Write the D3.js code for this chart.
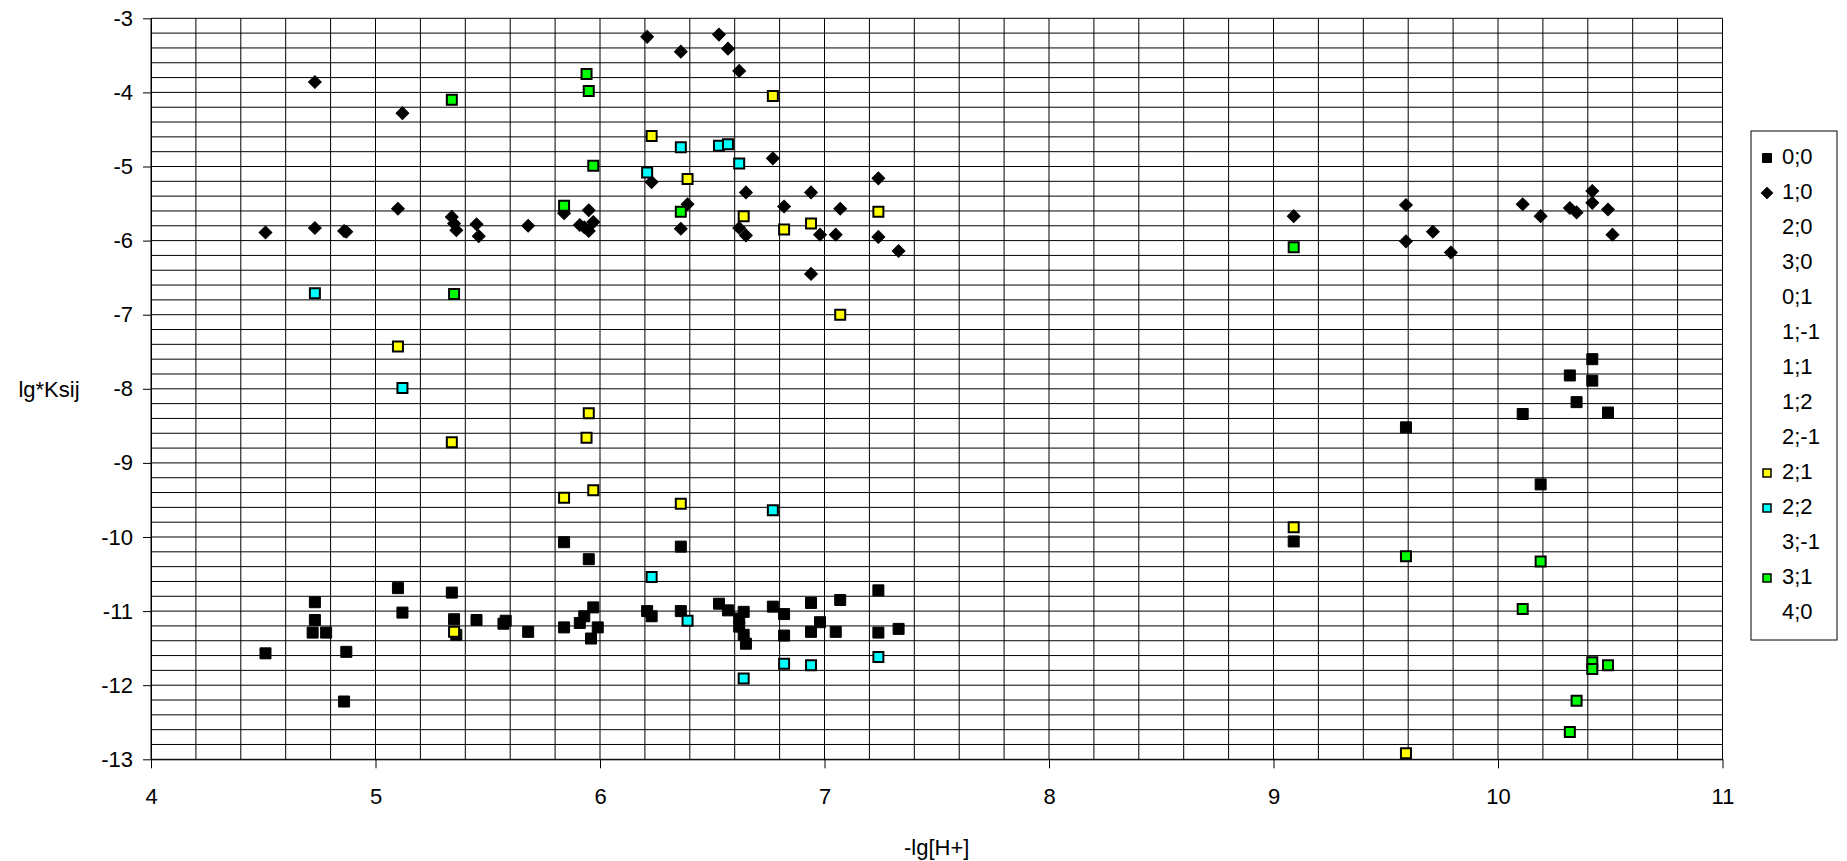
<!DOCTYPE html>
<html>
<head>
<meta charset="utf-8">
<script src="https://cdn.jsdelivr.net/npm/d3@7"></script>
<style>
  html, body { margin: 0; padding: 0; background: #fff; }
  svg { display: block; font-family: Arial, "Liberation Sans", sans-serif; }
</style>
</head>
<body>
<svg id="chart" width="1847" height="861"></svg>
<script>
// Axis ticks
const xTicks = [4, 5, 6, 7, 8, 9, 10, 11];
const yTicks = [-3, -4, -5, -6, -7, -8, -9, -10, -11, -12, -13];

// Legend order (series without points still listed)
const seriesNames = ["0;0", "1;0", "2;0", "3;0", "0;1", "1;-1", "1;1", "1;2", "2;-1", "2;1", "2;2", "3;-1", "3;1", "4;0"];

// Series points: [-lg[H+], lg*Ksij]
const s0_0 = [
  [4.51, -11.57], [4.72, -11.29], [4.73, -11.12], [4.73, -10.88], [4.78, -11.29], [4.86, -12.22],
  [4.87, -11.55], [5.10, -10.69], [5.12, -11.02], [5.34, -10.75], [5.35, -11.11], [5.36, -11.32],
  [5.45, -11.12], [5.57, -11.17], [5.58, -11.13], [5.68, -11.28],
  [5.84, -10.07], [5.95, -10.30], [6.36, -10.13],
  [5.97, -10.95], [5.93, -11.07], [5.91, -11.16], [5.84, -11.22], [5.99, -11.22], [5.96, -11.37],
  [6.21, -11.00], [6.23, -11.07], [6.36, -11.00], [6.53, -10.90], [6.57, -10.99], [6.64, -11.01],
  [6.62, -11.10], [6.62, -11.21], [6.64, -11.32], [6.65, -11.44], [6.77, -10.94], [6.82, -11.04],
  [6.82, -11.33], [6.94, -10.89], [6.98, -11.15], [6.94, -11.28], [7.07, -10.85], [7.05, -11.28],
  [7.24, -10.72], [7.24, -11.29], [7.33, -11.24],
  [9.09, -10.06], [9.59, -8.52], [10.11, -8.34], [10.19, -9.29], [10.32, -7.82], [10.35, -8.18],
  [10.42, -7.60], [10.42, -7.89], [10.49, -8.32]
];
const s1_0 = [
  [4.51, -5.89], [4.73, -3.86], [4.73, -5.83], [4.86, -5.87], [4.87, -5.88], [5.10, -5.57],
  [5.12, -4.28], [5.34, -5.68], [5.35, -5.77], [5.36, -5.86], [5.45, -5.78], [5.46, -5.94],
  [5.68, -5.80], [5.84, -5.63], [5.91, -5.79], [5.93, -5.82], [5.95, -5.87], [5.97, -5.75],
  [5.95, -5.59], [6.21, -3.25], [6.23, -5.21], [6.36, -3.45], [6.36, -5.84], [6.39, -5.51],
  [6.53, -3.22], [6.57, -3.41], [6.62, -3.71], [6.62, -5.83], [6.65, -5.93], [6.65, -5.35],
  [6.77, -4.89], [6.82, -5.54], [6.94, -5.35], [6.94, -6.45], [6.98, -5.92], [7.07, -5.57],
  [7.05, -5.92], [7.24, -5.16], [7.24, -5.95], [7.33, -6.14],
  [9.09, -5.67], [9.59, -5.52], [9.59, -6.01], [9.71, -5.88], [9.79, -6.16], [10.11, -5.51],
  [10.19, -5.67], [10.32, -5.56], [10.35, -5.62], [10.42, -5.33], [10.42, -5.49], [10.49, -5.58],
  [10.51, -5.92]
];
const s2_1 = [
  [5.10, -7.43], [5.34, -8.72], [5.35, -11.28], [5.84, -9.47], [5.94, -8.66], [5.95, -8.33],
  [5.97, -9.37], [6.23, -4.59], [6.36, -9.55], [6.39, -5.17], [6.64, -5.67], [6.77, -4.05],
  [6.82, -5.85], [6.94, -5.77], [7.07, -7.00], [7.24, -5.61], [9.09, -9.87], [9.59, -12.92]
];
const s2_2 = [
  [4.73, -6.71], [5.12, -7.99], [6.21, -5.08], [6.23, -10.54], [6.36, -4.74], [6.39, -11.13],
  [6.53, -4.72], [6.57, -4.70], [6.62, -4.96], [6.77, -9.64], [6.64, -11.91], [6.82, -11.71],
  [6.94, -11.73], [7.24, -11.62]
];
const s3_1 = [
  [5.34, -4.10], [5.35, -6.72], [5.84, -5.53], [5.94, -3.75], [5.95, -3.98], [5.97, -4.99],
  [6.36, -5.61], [9.09, -6.09], [9.59, -10.26], [10.11, -10.97], [10.19, -10.33], [10.32, -12.63],
  [10.35, -12.21], [10.42, -11.69], [10.42, -11.78], [10.49, -11.73]
];

const seriesData = {
  "0;0": s0_0, "1;0": s1_0, "2;0": [], "3;0": [], "0;1": [], "1;-1": [], "1;1": [],
  "1;2": [], "2;-1": [], "2;1": s2_1, "2;2": s2_2, "3;-1": [], "3;1": s3_1, "4;0": []
};

// Marker styles per series
const markerStyle = {
  "0;0": { shape: "square", fill: "#000000", stroke: "#000000", size: 11, sw: 1 },
  "1;0": { shape: "diamond", fill: "#000000", stroke: "#000000", size: 9, sw: 1 },
  "2;1": { shape: "square", fill: "#ffff00", stroke: "#000000", size: 10, sw: 2 },
  "2;2": { shape: "square", fill: "#00ffff", stroke: "#000000", size: 10, sw: 2 },
  "3;1": { shape: "square", fill: "#00ff00", stroke: "#000000", size: 10, sw: 2 }
};

const svg = d3.select("#chart");
const W = 1847, H = 861;
svg.append("rect").attr("width", W).attr("height", H).attr("fill", "#fff");

const x = d3.scaleLinear().domain([4, 11]).range([151, 1722.5]);
const y = d3.scaleLinear().domain([-13, -3]).range([759.3, 18.3]);

const fontSize = 22;

// Grid: every 0.2 on both axes
const grid = svg.append("g").attr("stroke", "#000").attr("stroke-width", 1);
d3.range(0, 36).forEach(i => {
  const v = 4 + i * 0.2;
  grid.append("line")
    .attr("x1", x(v)).attr("x2", x(v))
    .attr("y1", y(-3)).attr("y2", y(-13));
});
d3.range(0, 51).forEach(i => {
  const v = -3 - i * 0.2;
  grid.append("line")
    .attr("x1", x(4)).attr("x2", x(11))
    .attr("y1", y(v)).attr("y2", y(v));
});

// Axes
const xAxis = svg.append("g")
  .attr("transform", `translate(0,${y(-13)})`)
  .call(d3.axisBottom(x).tickValues(xTicks).tickFormat(d3.format("d")).tickSize(9).tickSizeOuter(0).tickPadding(20));
const yAxis = svg.append("g")
  .attr("transform", `translate(${x(4)},0)`)
  .call(d3.axisLeft(y).tickValues(yTicks).tickFormat(d => String(d).replace("\u2212", "-")).tickSize(8).tickSizeOuter(0).tickPadding(10));

[xAxis, yAxis].forEach(a => {
  a.selectAll("path").attr("stroke", "#000");
  a.selectAll("line").attr("stroke", "#000");
  a.selectAll("text")
    .attr("fill", "#000")
    .attr("font-size", fontSize)
    .attr("font-family", "Arial, 'Liberation Sans', sans-serif");
});

// Axis titles
svg.append("text")
  .attr("x", (x(4) + x(11)) / 2).attr("y", 849)
  .attr("text-anchor", "middle").attr("dominant-baseline", "middle")
  .attr("font-size", fontSize).attr("fill", "#000")
  .text("-lg[H+]");
svg.append("text")
  .attr("x", 49).attr("y", 391)
  .attr("text-anchor", "middle").attr("dominant-baseline", "middle")
  .attr("font-size", fontSize).attr("fill", "#000")
  .text("lg*Ksij");

// Marker path generator
function markerPath(st) {
  return d3.symbol().type(d3.symbolSquare).size(st.size * st.size)();
}

// Points, drawn series by series in legend order
const pts = svg.append("g");
seriesNames.forEach(name => {
  const data = seriesData[name];
  const st = markerStyle[name];
  if (!st || !data.length) return;
  pts.append("g").selectAll("path")
    .data(data)
    .join("path")
    .attr("d", markerPath(st))
    .attr("transform", d => `translate(${x(d[0])},${y(d[1])})` + (st.shape === "diamond" ? " rotate(45)" : ""))
    .attr("fill", st.fill)
    .attr("stroke", st.stroke)
    .attr("stroke-width", st.sw);
});

// Legend
const legTop = 131, legStep = 35, legLeft = 1751;
const legend = svg.append("g");
legend.append("rect")
  .attr("x", legLeft).attr("y", legTop)
  .attr("width", 86).attr("height", 509)
  .attr("fill", "#fff").attr("stroke", "#000").attr("stroke-width", 1);
seriesNames.forEach((name, i) => {
  const cy = legTop + 27 + i * legStep;
  const st = markerStyle[name];
  if (st) {
    legend.append("path")
      .attr("d", d3.symbol().type(d3.symbolSquare).size(st.shape === "diamond" || st.sw > 1 ? 64 : 81)())
      .attr("transform", `translate(${legLeft + 16},${cy})` + (st.shape === "diamond" ? " rotate(45)" : ""))
      .attr("fill", st.fill).attr("stroke", "#000").attr("stroke-width", st.sw > 1 ? 1.5 : 1);
  }
  legend.append("text")
    .attr("x", legLeft + 31).attr("y", cy)
    .attr("dominant-baseline", "middle")
    .attr("font-size", fontSize).attr("fill", "#000")
    .text(name);
});
</script>
</body>
</html>
